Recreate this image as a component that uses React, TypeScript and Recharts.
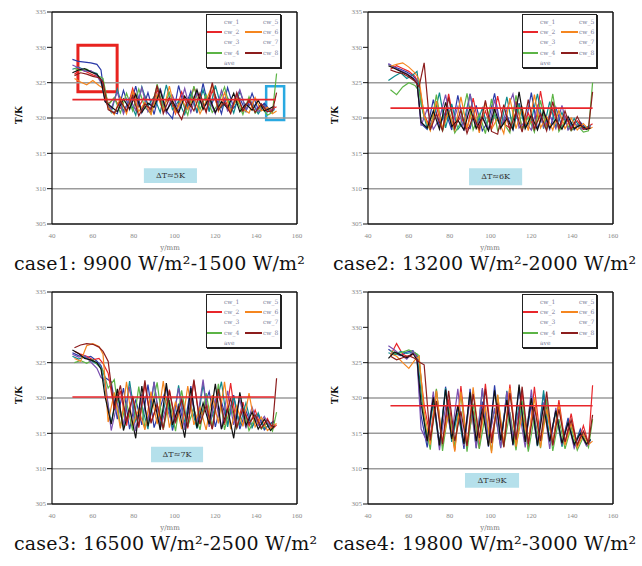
import React from "react";
import { LineChart, Line, XAxis, YAxis, ReferenceLine, ReferenceArea } from "recharts";

// sampling positions (y/mm) — odd channels on X_A, even channels on X_B
const X_A = [50, 53, 56, 59, 62, 64, 66, 69, 72, 75, 78, 81, 84, 87, 90, 93, 96, 99, 102, 105, 108, 111, 114, 117, 120, 123, 126, 129, 132, 135, 138, 141, 144, 147, 149];
const X_B = [51, 54, 57, 60, 63, 65, 67.5, 70.5, 73.5, 76.5, 79.5, 82.5, 85.5, 88.5, 91.5, 94.5, 97.5, 100.5, 103.5, 106.5, 109.5, 112.5, 115.5, 118.5, 121.5, 124.5, 127.5, 130.5, 133.5, 136.5, 139.5, 142.5, 145.5, 148, 150];

const X_TICKS = [40, 60, 80, 100, 120, 140, 160];
const Y_TICKS = [305, 310, 315, 320, 325, 330, 335];
const GRID_Y = [310, 315, 320, 325];

const NAMES = ["cw_1", "cw_2", "cw_3", "cw_4", "cw_5", "cw_6", "cw_7", "cw_8"];
const COLORS = ["#2b3aa8", "#e8262b", "#0e8a8c", "#5cb446", "#7a4fb0", "#f5861f", "#111111", "#8c1d1d"];
const LEGEND_SWATCH = [false, true, false, true, false, true, false, true];

// case1: 9900-1500
const C1_CW1 = [328.3, 328.0, 327.9, 327.8, 327.6, 326.8, 322.4, 321.0, 320.6, 323.9, 321.2, 324.5, 320.8, 323.6, 320.5, 324.2, 321.0, 319.9, 324.6, 321.3, 323.8, 320.7, 324.9, 321.1, 323.2, 320.6, 324.3, 321.4, 322.8, 320.9, 323.5, 321.2, 322.1, 321.0, 321.4];
const C1_CW2 = [326.2, 326.9, 326.5, 326.1, 325.8, 324.9, 322.0, 322.8, 321.4, 320.9, 324.2, 321.6, 323.1, 320.7, 324.0, 321.8, 322.9, 320.6, 323.7, 321.5, 324.3, 322.6, 320.9, 323.9, 321.3, 322.7, 320.8, 323.3, 321.0, 322.4, 320.8, 321.9, 320.9, 321.3, 321.6];
const C1_CW3 = [326.9, 327.2, 326.8, 326.6, 326.3, 325.2, 323.0, 320.8, 324.1, 321.0, 322.5, 320.4, 324.4, 321.7, 323.0, 320.8, 324.7, 321.2, 322.4, 320.5, 323.4, 321.0, 324.0, 320.9, 324.6, 321.5, 322.9, 320.7, 323.8, 321.3, 322.2, 320.6, 321.8, 320.8, 321.2];
const C1_CW4 = [327.0, 326.7, 326.9, 326.4, 325.9, 325.6, 321.8, 322.9, 320.7, 323.5, 321.0, 324.1, 321.5, 320.6, 324.8, 321.4, 323.6, 320.9, 322.7, 320.4, 324.5, 321.2, 323.3, 320.8, 322.0, 324.4, 321.1, 322.6, 320.5, 323.0, 320.7, 321.6, 320.4, 320.8, 326.3];
const C1_CW5 = [327.5, 327.1, 326.6, 326.7, 326.0, 325.0, 322.6, 321.3, 323.7, 320.6, 322.8, 321.1, 324.3, 320.9, 322.3, 324.1, 320.7, 323.2, 321.0, 324.2, 320.8, 323.6, 321.4, 322.5, 320.6, 323.9, 321.0, 322.1, 324.0, 321.2, 322.3, 320.9, 321.7, 321.1, 321.3];
const C1_CW6 = [325.6, 325.1, 324.7, 325.3, 324.6, 324.2, 321.5, 320.5, 322.9, 320.6, 323.8, 320.9, 322.2, 320.5, 323.3, 321.0, 324.5, 320.8, 322.6, 321.2, 323.0, 320.6, 322.4, 324.7, 321.0, 323.6, 320.9, 322.8, 321.3, 320.7, 322.9, 321.0, 321.5, 320.6, 321.0];
const C1_CW7 = [326.4, 326.8, 327.0, 326.5, 326.2, 325.4, 322.3, 321.6, 320.9, 322.7, 321.3, 323.4, 320.8, 322.1, 321.5, 323.9, 321.0, 322.4, 320.7, 323.1, 321.6, 324.0, 321.2, 322.9, 320.8, 322.3, 321.4, 323.5, 320.9, 322.0, 321.1, 322.5, 321.0, 321.4, 321.7];
const C1_CW8 = [326.0, 326.4, 326.2, 325.9, 325.7, 325.1, 321.2, 320.7, 322.4, 321.0, 323.2, 320.3, 322.0, 321.2, 324.6, 320.6, 322.8, 321.3, 319.8, 322.5, 321.0, 323.5, 320.8, 325.0, 321.1, 322.2, 320.6, 323.6, 321.0, 322.6, 320.8, 322.0, 320.9, 321.0, 323.6];
const C1_AVE_X = [50, 149.5];
const C1_AVE = 322.6;

// case2: 13200-2000
const C2_CW1 = [327.6, 327.2, 326.9, 326.5, 326.0, 325.3, 319.2, 318.4, 322.6, 318.8, 320.9, 318.3, 323.2, 319.0, 318.5, 321.8, 318.2, 319.6, 323.5, 318.6, 320.4, 318.3, 322.1, 318.9, 323.6, 318.5, 320.8, 318.4, 321.5, 318.7, 319.8, 318.3, 319.4, 318.5, 318.9];
const C2_CW2 = [326.9, 327.4, 327.0, 326.6, 325.9, 324.8, 320.5, 318.6, 321.7, 318.3, 323.4, 318.9, 320.2, 318.4, 322.8, 318.7, 321.0, 318.5, 323.1, 319.2, 318.6, 322.4, 318.5, 320.7, 318.3, 323.8, 318.9, 321.3, 318.4, 320.3, 318.6, 319.6, 318.4, 318.8, 319.2];
const C2_CW3 = [325.3, 325.9, 326.4, 325.6, 326.1, 326.6, 321.9, 318.5, 319.8, 323.6, 318.6, 322.0, 318.4, 319.5, 323.4, 318.8, 321.4, 318.3, 320.6, 318.7, 323.0, 318.4, 321.9, 318.6, 319.7, 323.4, 318.5, 322.3, 318.7, 320.8, 318.4, 319.9, 318.6, 318.7, 319.0];
const C2_CW4 = [324.0, 323.3, 324.4, 325.0, 324.6, 323.8, 320.1, 318.3, 323.3, 318.1, 321.2, 317.9, 319.4, 323.5, 318.3, 320.6, 317.8, 322.7, 318.2, 319.3, 317.9, 323.2, 318.4, 320.1, 318.0, 322.5, 318.3, 323.4, 318.1, 319.6, 318.2, 319.0, 318.0, 318.2, 325.0];
const C2_CW5 = [327.7, 327.1, 326.7, 326.3, 325.7, 325.0, 318.9, 321.3, 318.4, 319.9, 323.3, 318.7, 321.6, 318.2, 323.4, 318.8, 320.2, 318.4, 322.6, 318.5, 321.2, 323.4, 318.6, 319.5, 318.3, 321.7, 318.7, 320.4, 318.5, 321.8, 318.3, 319.3, 318.5, 318.4, 318.8];
const C2_CW6 = [327.3, 327.6, 327.8, 327.2, 326.4, 325.5, 320.3, 318.2, 322.4, 318.5, 320.8, 318.3, 323.0, 318.6, 321.3, 317.9, 322.2, 318.4, 320.0, 317.8, 322.8, 318.5, 321.5, 318.2, 323.3, 318.6, 320.2, 318.3, 321.1, 318.5, 320.0, 318.3, 319.2, 318.4, 318.7];
const C2_CW7 = [327.4, 327.0, 326.6, 326.2, 325.6, 324.9, 319.4, 318.6, 321.0, 318.4, 322.2, 318.8, 319.7, 318.3, 321.5, 318.5, 320.1, 318.2, 321.3, 318.6, 319.9, 318.4, 323.7, 318.5, 320.4, 318.3, 321.0, 318.6, 319.8, 318.4, 320.2, 318.5, 319.0, 318.4, 318.6];
const C2_CW8 = [326.8, 326.5, 326.3, 325.8, 325.2, 324.4, 327.8, 318.3, 320.6, 318.2, 322.9, 318.5, 321.1, 317.8, 320.3, 318.4, 322.5, 318.1, 317.7, 321.9, 318.3, 320.9, 318.0, 322.6, 318.4, 320.6, 318.2, 322.3, 318.5, 321.0, 318.3, 320.2, 318.4, 318.6, 323.7];
const C2_AVE_X = [51, 150];
const C2_AVE = 321.4;

// case3: 16500-2500
const C3_CW1 = [326.4, 326.0, 325.7, 325.9, 325.2, 324.6, 322.9, 322.3, 317.0, 321.4, 315.6, 319.8, 316.2, 321.9, 315.8, 318.6, 321.5, 315.4, 319.2, 316.0, 321.7, 315.7, 318.4, 320.9, 315.9, 319.5, 316.3, 320.4, 315.6, 318.2, 315.9, 317.6, 315.5, 316.4, 316.8];
const C3_CW2 = [326.6, 326.2, 325.9, 325.4, 325.6, 324.9, 323.5, 318.3, 321.0, 316.1, 320.3, 315.8, 322.0, 316.6, 319.1, 315.5, 321.2, 316.4, 320.0, 315.7, 322.4, 316.3, 319.6, 315.6, 321.0, 316.2, 322.1, 315.8, 319.4, 316.0, 318.3, 315.7, 317.1, 315.6, 316.2];
const C3_CW3 = [325.9, 325.5, 325.8, 325.3, 324.8, 324.3, 321.5, 316.4, 320.6, 315.9, 322.4, 316.7, 318.9, 315.6, 322.3, 316.1, 320.1, 315.8, 321.8, 316.5, 319.0, 315.7, 322.0, 316.2, 318.7, 322.3, 315.9, 320.2, 316.1, 319.3, 315.8, 317.9, 315.7, 316.3, 316.6];
const C3_CW4 = [325.0, 325.3, 324.9, 325.4, 324.5, 323.9, 321.4, 322.6, 316.0, 319.4, 315.4, 321.6, 315.8, 318.1, 322.2, 315.6, 319.7, 315.3, 321.1, 316.0, 318.5, 315.5, 320.7, 315.8, 322.0, 315.5, 319.0, 315.7, 318.6, 315.4, 317.2, 315.6, 316.5, 315.3, 318.0];
const C3_CW5 = [326.2, 325.8, 326.0, 325.1, 324.2, 322.9, 322.6, 315.4, 319.3, 316.2, 321.6, 315.3, 320.5, 316.8, 322.3, 315.7, 318.8, 316.3, 321.4, 315.5, 320.2, 316.6, 322.6, 315.9, 319.9, 315.6, 321.0, 316.2, 319.8, 315.7, 318.7, 316.1, 317.4, 315.8, 316.3];
const C3_CW6 = [325.6, 325.2, 327.4, 327.7, 327.3, 326.2, 316.6, 320.8, 315.7, 322.3, 316.1, 318.4, 315.5, 320.9, 316.3, 322.4, 315.8, 319.5, 315.6, 321.7, 316.2, 318.7, 315.5, 320.4, 316.4, 322.3, 315.6, 318.9, 316.0, 320.7, 315.9, 317.3, 315.4, 316.0, 316.4];
const C3_CW7 = [326.8, 326.3, 325.6, 325.4, 325.0, 324.1, 320.2, 316.3, 321.3, 315.4, 318.6, 314.3, 321.7, 316.0, 319.9, 315.5, 322.1, 316.2, 318.7, 314.4, 321.4, 315.8, 319.3, 316.3, 322.0, 315.6, 318.5, 314.3, 320.8, 316.1, 318.0, 315.6, 317.0, 315.4, 316.1];
const C3_CW8 = [327.1, 327.5, 327.7, 327.6, 327.2, 326.6, 325.2, 318.4, 321.8, 316.7, 320.2, 316.0, 322.5, 316.4, 319.1, 315.7, 321.0, 316.6, 319.8, 315.9, 322.6, 316.3, 318.9, 315.6, 321.3, 316.5, 320.0, 315.8, 318.5, 316.4, 317.6, 315.7, 316.9, 315.9, 322.8];
const C3_AVE_X = [50, 149];
const C3_AVE = 320.15;

// case4: 19800-3000
const C4_CW1 = [326.9, 326.3, 326.0, 326.5, 326.7, 325.8, 317.5, 313.0, 320.4, 313.4, 321.6, 314.1, 318.7, 312.8, 321.3, 313.6, 319.5, 313.1, 321.8, 314.0, 320.2, 313.3, 321.5, 313.8, 319.1, 313.2, 320.6, 313.9, 318.3, 313.5, 317.2, 313.1, 315.6, 313.4, 314.0];
const C4_CW2 = [326.0, 327.7, 326.2, 325.8, 326.4, 325.2, 319.0, 314.5, 321.2, 313.2, 319.8, 312.6, 321.7, 313.5, 318.2, 312.9, 322.0, 314.2, 319.5, 313.0, 321.9, 313.7, 320.8, 312.8, 321.6, 314.0, 318.8, 313.3, 319.7, 313.6, 317.8, 313.2, 316.1, 313.5, 321.8];
const C4_CW3 = [326.4, 326.1, 326.6, 326.3, 326.5, 326.2, 320.8, 313.6, 319.3, 313.1, 321.4, 313.8, 317.9, 313.3, 320.5, 312.9, 321.2, 314.3, 318.4, 313.0, 321.0, 313.6, 319.0, 314.1, 320.3, 313.2, 321.1, 313.7, 318.0, 313.1, 316.8, 313.5, 315.2, 313.3, 314.2];
const C4_CW4 = [326.7, 326.2, 326.5, 326.8, 326.4, 326.0, 316.9, 312.7, 321.3, 312.5, 318.5, 313.0, 320.7, 312.4, 319.2, 312.8, 317.6, 312.5, 320.4, 313.1, 318.0, 312.6, 319.6, 312.4, 317.3, 312.9, 319.8, 312.5, 317.0, 312.8, 315.9, 312.6, 314.5, 313.0, 317.0];
const C4_CW5 = [327.4, 326.8, 326.1, 325.5, 326.6, 325.6, 315.6, 313.8, 320.9, 312.6, 318.9, 314.6, 321.3, 313.2, 319.9, 312.9, 321.4, 313.6, 318.6, 312.9, 320.9, 314.4, 318.3, 313.0, 321.2, 313.7, 319.4, 312.8, 318.6, 313.4, 316.7, 312.9, 315.1, 313.2, 313.8];
const C4_CW6 = [326.3, 325.9, 325.0, 324.2, 325.4, 325.9, 318.1, 313.4, 321.0, 313.8, 317.8, 312.4, 320.9, 313.2, 321.5, 314.0, 318.9, 312.2, 320.5, 313.6, 321.4, 313.1, 317.6, 313.9, 320.1, 313.0, 318.4, 313.6, 319.1, 313.3, 316.4, 313.0, 314.9, 313.4, 313.9];
const C4_CW7 = [325.6, 326.5, 326.1, 325.7, 326.3, 325.4, 319.3, 313.9, 320.1, 313.3, 321.2, 314.2, 319.0, 313.5, 320.8, 313.9, 318.5, 313.2, 321.1, 314.0, 319.7, 313.4, 321.9, 313.8, 320.0, 313.3, 318.9, 313.9, 318.2, 313.6, 316.5, 313.4, 315.0, 313.5, 314.1];
const C4_CW8 = [325.9, 325.4, 325.7, 326.0, 325.6, 325.1, 324.7, 314.0, 319.6, 313.5, 321.0, 313.9, 318.1, 313.2, 320.6, 314.3, 321.3, 313.6, 319.2, 313.1, 320.7, 314.1, 321.6, 313.5, 318.7, 313.9, 320.9, 313.3, 318.4, 313.8, 316.9, 313.4, 315.3, 313.6, 317.6];
const C4_AVE_X = [51, 150];
const C4_AVE = 318.9;

const CAPTIONS = [
  "case1: 9900 W/m²-1500 W/m²",
  "case2: 13200 W/m²-2000 W/m²",
  "case3: 16500 W/m²-2500 W/m²",
  "case4: 19800 W/m²-3000 W/m²",
];
const DELTA_LABELS = ["ΔT≈5K", "ΔT≈6K", "ΔT≈7K", "ΔT≈9K"];
// [x1, x2, y1, y2] of the light-blue ΔT note
const DELTA_BOXES = [
  [85, 111, 310.8, 312.9],
  [89.5, 115.5, 310.5, 312.9],
  [88.5, 114, 310.9, 313.1],
  [87.5, 114, 307.3, 309.4],
];

const PANELS = [
  { series: [C1_CW1, C1_CW2, C1_CW3, C1_CW4, C1_CW5, C1_CW6, C1_CW7, C1_CW8], aveX: C1_AVE_X, ave: C1_AVE },
  { series: [C2_CW1, C2_CW2, C2_CW3, C2_CW4, C2_CW5, C2_CW6, C2_CW7, C2_CW8], aveX: C2_AVE_X, ave: C2_AVE },
  { series: [C3_CW1, C3_CW2, C3_CW3, C3_CW4, C3_CW5, C3_CW6, C3_CW7, C3_CW8], aveX: C3_AVE_X, ave: C3_AVE },
  { series: [C4_CW1, C4_CW2, C4_CW3, C4_CW4, C4_CW5, C4_CW6, C4_CW7, C4_CW8], aveX: C4_AVE_X, ave: C4_AVE },
];

const SERIF = "'DejaVu Serif', 'Liberation Serif', serif";
const tickStyle = { fontSize: 7, fill: "#8a8a8a", fontFamily: "'Liberation Serif', serif" };

function LegendBox({ left, top }: { left: number; top: number }) {
  const rows = [0, 1, 2, 3, 4];
  return (
    <div
      style={{
        position: "absolute", left, top, width: 73, height: 52,
        border: "1px solid #222", boxShadow: "1px 1px 0 #222", background: "#fff",
      }}
    >
      {rows.map((r) => {
        const leftName = r < 4 ? NAMES[r] : "ave";
        const leftIdx = r < 4 ? r : -1;
        const rightIdx = r < 4 ? r + 4 : -1;
        return (
          <React.Fragment key={r}>
            {leftIdx >= 0 && LEGEND_SWATCH[leftIdx] && (
              <div style={{ position: "absolute", left: 0, top: 6 + r * 10.2, width: 15, height: 2, background: COLORS[leftIdx] }} />
            )}
            <div style={{ position: "absolute", left: 17, top: 3 + r * 10.2, fontSize: 6, lineHeight: "8px", color: "#7d7f9c", fontFamily: SERIF, whiteSpace: "nowrap" }}>
              {leftName}
            </div>
            {rightIdx >= 0 && LEGEND_SWATCH[rightIdx] && (
              <div style={{ position: "absolute", left: 38, top: 6 + r * 10.2, width: 17, height: 2, background: COLORS[rightIdx] }} />
            )}
            {rightIdx >= 0 && (
              <div style={{ position: "absolute", left: 56, top: 3 + r * 10.2, fontSize: 6, lineHeight: "8px", color: "#7d7f9c", fontFamily: SERIF, whiteSpace: "nowrap" }}>
                {NAMES[rightIdx]}
              </div>
            )}
          </React.Fragment>
        );
      })}
    </div>
  );
}

function Panel({ idx, left, top }: { idx: number; left: number; top: number }) {
  const p = PANELS[idx];
  const isLeft = idx % 2 === 0;
  const marginLeft = isLeft ? 12 : 8;
  const width = marginLeft + 40 + 245 + 8;
  const box = DELTA_BOXES[idx];
  return (
    <div style={{ position: "absolute", left, top, width: 320, height: 280 }}>
      <LineChart width={width} height={240} margin={{ top: 12, right: 8, bottom: 2, left: marginLeft }}>
        <XAxis
          type="number" dataKey="x" domain={[40, 160]} ticks={X_TICKS} allowDataOverflow
          height={14} tick={tickStyle} tickLine={false} tickMargin={3}
          axisLine={{ stroke: "#111", strokeWidth: 1.6 }}
        />
        <YAxis
          type="number" dataKey="y" domain={[305, 335]} ticks={Y_TICKS} allowDataOverflow
          width={40} tick={tickStyle} tickSize={5} tickMargin={1}
          tickLine={{ stroke: "#111" }} axisLine={{ stroke: "#111", strokeWidth: 1.2 }}
        />
        {GRID_Y.map((g) => (
          <ReferenceLine key={g} y={g} stroke="#9b9b9b" strokeWidth={1.5} />
        ))}
        <ReferenceLine y={335} stroke="#111" strokeWidth={1.5} />
        <ReferenceLine x={160} stroke="#111" strokeWidth={1.5} />
        {p.series.map((ys, k) => {
          const xs = k % 2 === 0 ? X_A : X_B;
          const data = ys.map((y, i) => ({ x: xs[i], y }));
          return (
            <Line
              key={NAMES[k]} name={NAMES[k]} data={data} dataKey="y" type="linear"
              stroke={COLORS[k]} strokeWidth={1.2} dot={false} isAnimationActive={false}
            />
          );
        })}
        <Line
          name="ave" data={p.aveX.map((x) => ({ x, y: p.ave }))} dataKey="y"
          stroke="#e8262b" strokeWidth={1.6} dot={false} isAnimationActive={false}
        />
        <ReferenceArea
          x1={box[0]} x2={box[1]} y1={box[2]} y2={box[3]}
          fill="#b5e0eb" fillOpacity={1} stroke="none"
          label={{ value: DELTA_LABELS[idx], position: "center", fontSize: 8, fill: "#333", fontFamily: SERIF }}
        />
        {idx === 0 && (
          <ReferenceArea x1={52.7} x2={71.9} y1={323.7} y2={330.3} fill="none" stroke="#e8231f" strokeWidth={3} />
        )}
        {idx === 0 && (
          <ReferenceArea x1={144.9} x2={153.7} y1={319.7} y2={324.5} fill="none" stroke="#29a9e1" strokeWidth={2.5} />
        )}
      </LineChart>
      <LegendBox left={isLeft ? 206 : 202} top={14} />
      <div
        style={{
          position: "absolute", left: isLeft ? 4 : 0, top: 110, width: 30, textAlign: "center",
          transform: "rotate(-90deg)", fontSize: 9, fontWeight: "bold", fontFamily: SERIF, color: "#111",
        }}
      >
        T/K
      </div>
      <div
        style={{
          position: "absolute", left: 150, top: 244, width: 40, textAlign: "center",
          fontSize: 7, color: "#777", fontFamily: SERIF,
        }}
      >
        y/mm
      </div>
      <div
        style={{
          position: "absolute", left: isLeft ? 14 : 13, top: 252, whiteSpace: "nowrap",
          fontSize: 19, letterSpacing: 0.2, fontFamily: SERIF, color: "#111",
        }}
      >
        {CAPTIONS[idx]}
      </div>
    </div>
  );
}

export default function App() {
  return (
    <div style={{ position: "absolute", left: 0, top: 0, width: 642, height: 566, background: "#fff", overflow: "hidden" }}>
      <Panel idx={0} left={0} top={0} />
      <Panel idx={1} left={320} top={0} />
      <Panel idx={2} left={0} top={280} />
      <Panel idx={3} left={320} top={280} />
    </div>
  );
}
